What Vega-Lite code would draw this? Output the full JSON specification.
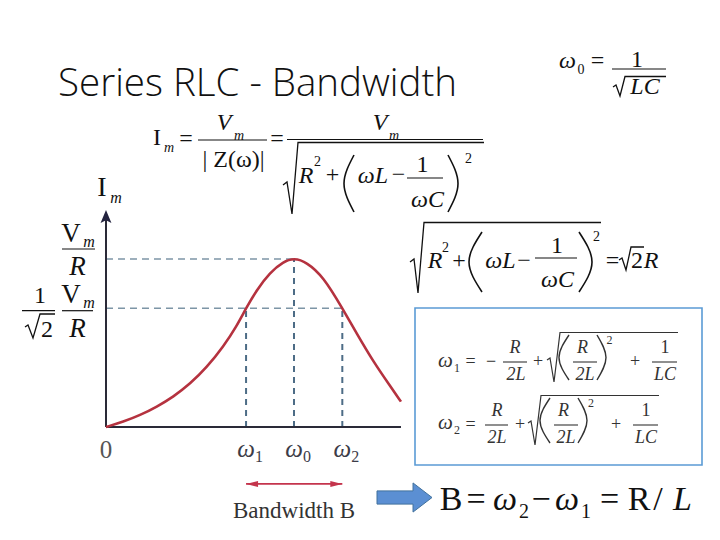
{
  "$schema": "https://vega.github.io/schema/vega-lite/v6.json",
  "width": 720,
  "height": 540,
  "autosize": {"type": "fit", "contains": "padding"},
  "padding": 0,
  "background": "white",
  "config": {"view": {"stroke": null}},
  "datasets": {
    "curve": [
      {"w": 0, "i": 0}, {"w": 0.092, "i": 0.031}, {"w": 0.181, "i": 0.07}, {"w": 0.27, "i": 0.12},
      {"w": 0.358, "i": 0.18}, {"w": 0.447, "i": 0.256}, {"w": 0.536, "i": 0.355}, {"w": 0.624, "i": 0.478},
      {"w": 0.695, "i": 0.6}, {"w": 0.745, "i": 0.707}, {"w": 0.801, "i": 0.815}, {"w": 0.872, "i": 0.92},
      {"w": 0.943, "i": 0.984}, {"w": 1.0, "i": 1.006}, {"w": 1.067, "i": 0.982}, {"w": 1.156, "i": 0.895},
      {"w": 1.257, "i": 0.707}, {"w": 1.333, "i": 0.558}, {"w": 1.422, "i": 0.389}, {"w": 1.514, "i": 0.24},
      {"w": 1.569, "i": 0.151}
    ],
    "hdash": [{"w": 0, "w2": 1.0, "i": 1.0}, {"w": 0, "w2": 1.257, "i": 0.707}],
    "vdash": [{"w": 0.745, "i": 0, "i2": 0.707}, {"w": 1.0, "i": 0, "i2": 1.0}, {"w": 1.257, "i": 0, "i2": 0.707}],
    "xaxis": [{"w": 0, "w2": 1.569, "i": 0}],
    "yaxis": [{"w": 0, "i": 0, "i2": 1.232}],
    "yhead": [{"w": 0, "i": 1.2512}],
    "bw": [{"w": 0.745, "w2": 1.257, "i": -0.339}],
    "bwl": [{"w": 0.745, "i": -0.339}],
    "bwr": [{"w": 1.257, "i": -0.339}],
    "bwtext": [{"w": 1.0, "i": -0.5417, "t": "Bandwidth B"}],
    "zero": [{"w": 0, "i": -0.1845, "t": "0"}],
    "wl": [{"w": 0.745, "i": -0.1786, "s": "1"}, {"w": 1.0, "i": -0.1786, "s": "0"}, {"w": 1.257, "i": -0.1786, "s": "2"}],
    "title": [{"x": 58, "y": 96, "t": "Series RLC - Bandwidth"}],
    "box": [{"x": 415, "x2": 702, "y": 308, "y2": 465}],
    "arrow": [{"x": 404.5, "y": 497.5}],
    "t24": [
      {"x": 597.5, "y": 68, "t": "="}, {"x": 637, "y": 66.5, "t": "1"}, {"x": 157, "y": 145, "t": "I"},
      {"x": 186, "y": 146, "t": "="}, {"x": 233.5, "y": 167, "t": "| Z(ω)|"}, {"x": 277, "y": 146, "t": "="},
      {"x": 332.5, "y": 182, "t": "+"}, {"x": 398.5, "y": 182, "t": "−"}, {"x": 422.5, "y": 172, "t": "1"},
      {"x": 459, "y": 268, "t": "+"}, {"x": 524, "y": 268, "t": "−"}, {"x": 557, "y": 253, "t": "1"},
      {"x": 612.5, "y": 268, "t": "="}, {"x": 637, "y": 268, "t": "2"}, {"x": 40, "y": 303, "t": "1"},
      {"x": 47, "y": 337, "t": "2"}
    ],
    "i24": [
      {"x": 567.5, "y": 68, "t": "ω"}, {"x": 645, "y": 94, "t": "LC"}, {"x": 224, "y": 130, "t": "V"},
      {"x": 380, "y": 130, "t": "V"}, {"x": 306, "y": 183, "t": "R"}, {"x": 373, "y": 183, "t": "ωL"},
      {"x": 427.5, "y": 207, "t": "ωC"}, {"x": 435, "y": 268, "t": "R"}, {"x": 500.5, "y": 268, "t": "ωL"},
      {"x": 557.5, "y": 287, "t": "ωC"}, {"x": 651, "y": 268, "t": "R"}
    ],
    "t14": [
      {"x": 581, "y": 74, "t": "0"}, {"x": 317.5, "y": 166, "t": "2"}, {"x": 468.5, "y": 163, "t": "2"},
      {"x": 445.5, "y": 252, "t": "2"}, {"x": 596.5, "y": 241, "t": "2"}
    ],
    "i14": [{"x": 169, "y": 152, "t": "m"}, {"x": 239, "y": 140, "t": "m"}, {"x": 394, "y": 140, "t": "m"}],
    "t27": [{"x": 71, "y": 242, "t": "V"}, {"x": 71, "y": 303, "t": "V"}],
    "i27": [{"x": 77.5, "y": 275, "t": "R"}, {"x": 77.5, "y": 337, "t": "R"}],
    "i16": [{"x": 89, "y": 247, "t": "m"}, {"x": 89, "y": 308, "t": "m"}, {"x": 116, "y": 203, "t": "m"}],
    "t28": [{"x": 102, "y": 196, "t": "I"}],
    "bt18": [
      {"x": 470.5, "y": 367, "t": "="}, {"x": 491, "y": 367, "t": "−"}, {"x": 538, "y": 367, "t": "+"},
      {"x": 635, "y": 367, "t": "+"}, {"x": 665, "y": 353, "t": "1"}, {"x": 470.5, "y": 430, "t": "="},
      {"x": 520, "y": 430, "t": "+"}, {"x": 616, "y": 430, "t": "+"}, {"x": 646, "y": 416, "t": "1"}
    ],
    "bi18": [
      {"x": 515, "y": 353, "t": "R"}, {"x": 516, "y": 380, "t": "2L"},
      {"x": 582.5, "y": 353, "t": "R"}, {"x": 585, "y": 380, "t": "2L"}, {"x": 665, "y": 380, "t": "LC"},
      {"x": 497, "y": 416, "t": "R"}, {"x": 497, "y": 443, "t": "2L"},
      {"x": 563.5, "y": 416, "t": "R"}, {"x": 566, "y": 443, "t": "2L"}, {"x": 646, "y": 443, "t": "LC"}
    ],
    "bw20": [{"x": 445.5, "y": 367, "t": "ω"}, {"x": 445.5, "y": 429, "t": "ω"}],
    "bt12": [{"x": 457, "y": 372, "t": "1"}, {"x": 609.5, "y": 344, "t": "2"}, {"x": 457, "y": 434, "t": "2"}, {"x": 591, "y": 407, "t": "2"}],
    "bigt": [
      {"x": 451, "y": 510, "t": "B"}, {"x": 476, "y": 510, "t": "="}, {"x": 541, "y": 510, "t": "−"},
      {"x": 609.5, "y": 510, "t": "="}, {"x": 639, "y": 510, "t": "R"}, {"x": 658, "y": 510, "t": "/"}
    ],
    "bigi": [{"x": 505, "y": 510, "t": "ω"}, {"x": 567, "y": 510, "t": "ω"}, {"x": 682.5, "y": 510, "t": "L"}],
    "bigs": [{"x": 524, "y": 518, "t": "2"}, {"x": 586, "y": 518, "t": "1"}],
    "bars": [
      {"x": 612, "x2": 666, "y": 69}, {"x": 198, "x2": 267, "y": 140}, {"x": 287, "x2": 483, "y": 139.5},
      {"x": 407, "x2": 443, "y": 178}, {"x": 535, "x2": 577, "y": 258}, {"x": 62, "x2": 95, "y": 249},
      {"x": 22, "x2": 55, "y": 310.7}, {"x": 62, "x2": 93, "y": 310.7}
    ],
    "bbars": [
      {"x": 503, "x2": 527, "y": 362}, {"x": 573, "x2": 597, "y": 362}, {"x": 652, "x2": 677, "y": 362},
      {"x": 485, "x2": 508, "y": 425}, {"x": 554, "x2": 578, "y": 425}, {"x": 633, "x2": 658, "y": 425}
    ],
    "rad": [
      {"id": "r1", "k": 0, "x": 613, "y": 87}, {"id": "r1", "k": 1, "x": 616, "y": 85}, {"id": "r1", "k": 2, "x": 620, "y": 96}, {"id": "r1", "k": 3, "x": 625, "y": 76.5}, {"id": "r1", "k": 4, "x": 666, "y": 76.5},
      {"id": "r2", "k": 0, "x": 283, "y": 185}, {"id": "r2", "k": 1, "x": 287, "y": 182}, {"id": "r2", "k": 2, "x": 292, "y": 214}, {"id": "r2", "k": 3, "x": 298, "y": 142.5}, {"id": "r2", "k": 4, "x": 484, "y": 142.5},
      {"id": "r3", "k": 0, "x": 410, "y": 262}, {"id": "r3", "k": 1, "x": 414, "y": 259}, {"id": "r3", "k": 2, "x": 418, "y": 293}, {"id": "r3", "k": 3, "x": 424, "y": 222.5}, {"id": "r3", "k": 4, "x": 601, "y": 222.5},
      {"id": "r4", "k": 0, "x": 25, "y": 327}, {"id": "r4", "k": 1, "x": 28, "y": 325}, {"id": "r4", "k": 2, "x": 33, "y": 338}, {"id": "r4", "k": 3, "x": 40, "y": 314}, {"id": "r4", "k": 4, "x": 55, "y": 314},
      {"id": "r5", "k": 0, "x": 619, "y": 260}, {"id": "r5", "k": 1, "x": 622, "y": 258}, {"id": "r5", "k": 2, "x": 626, "y": 270}, {"id": "r5", "k": 3, "x": 631, "y": 247}, {"id": "r5", "k": 4, "x": 644, "y": 247}
    ],
    "brad": [
      {"id": "b1", "k": 0, "x": 547, "y": 360}, {"id": "b1", "k": 1, "x": 550, "y": 358}, {"id": "b1", "k": 2, "x": 554, "y": 382}, {"id": "b1", "k": 3, "x": 560, "y": 332.5}, {"id": "b1", "k": 4, "x": 678, "y": 332.5},
      {"id": "b2", "k": 0, "x": 528, "y": 423}, {"id": "b2", "k": 1, "x": 531, "y": 421}, {"id": "b2", "k": 2, "x": 535, "y": 445}, {"id": "b2", "k": 3, "x": 541, "y": 395.5}, {"id": "b2", "k": 4, "x": 659, "y": 395.5}
    ],
    "par": [
      {"id": "p1", "k": 0, "x": 354, "y": 155}, {"id": "p1", "k": 1, "x": 344, "y": 183.5}, {"id": "p1", "k": 2, "x": 354, "y": 212},
      {"id": "p2", "k": 0, "x": 448, "y": 155}, {"id": "p2", "k": 1, "x": 458, "y": 183.5}, {"id": "p2", "k": 2, "x": 448, "y": 212},
      {"id": "p3", "k": 0, "x": 482, "y": 232}, {"id": "p3", "k": 1, "x": 469, "y": 262}, {"id": "p3", "k": 2, "x": 482, "y": 292},
      {"id": "p4", "k": 0, "x": 579, "y": 232}, {"id": "p4", "k": 1, "x": 592, "y": 262}, {"id": "p4", "k": 2, "x": 579, "y": 292}
    ],
    "bpar": [
      {"id": "p5", "k": 0, "x": 569, "y": 335}, {"id": "p5", "k": 1, "x": 559, "y": 357.5}, {"id": "p5", "k": 2, "x": 569, "y": 380},
      {"id": "p6", "k": 0, "x": 597, "y": 335}, {"id": "p6", "k": 1, "x": 606, "y": 357.5}, {"id": "p6", "k": 2, "x": 597, "y": 380},
      {"id": "p7", "k": 0, "x": 550, "y": 398}, {"id": "p7", "k": 1, "x": 540, "y": 420.5}, {"id": "p7", "k": 2, "x": 550, "y": 443},
      {"id": "p8", "k": 0, "x": 578, "y": 398}, {"id": "p8", "k": 1, "x": 587, "y": 420.5}, {"id": "p8", "k": 2, "x": 578, "y": 443}
    ]
  },
  "layer": [
    {
      "encoding": {
        "x": {"field": "w", "type": "quantitative", "scale": {"domain": [-0.56383, 3.26596], "nice": false, "zero": false}, "axis": null},
        "y": {"field": "i", "type": "quantitative", "scale": {"domain": [-0.67262, 2.54167], "nice": false, "zero": false}, "axis": null}
      },
      "layer": [
        {"data": {"name": "hdash"}, "mark": {"type": "rule", "color": "#7d95a6", "strokeWidth": 1.6, "strokeDash": [7, 5]}, "encoding": {"x2": {"field": "w2"}}},
        {"data": {"name": "vdash"}, "mark": {"type": "rule", "color": "#4d6c86", "strokeWidth": 2, "strokeDash": [6, 5]}, "encoding": {"y2": {"field": "i2"}}},
        {"data": {"name": "xaxis"}, "mark": {"type": "rule", "color": "#2a2a38", "strokeWidth": 2.2}, "encoding": {"x2": {"field": "w2"}}},
        {"data": {"name": "yaxis"}, "mark": {"type": "rule", "color": "#2a2a38", "strokeWidth": 2}, "encoding": {"y2": {"field": "i2"}}},
        {"data": {"name": "yhead"}, "mark": {"type": "point", "filled": true, "color": "#23233f", "opacity": 1, "size": 185, "shape": "M0,-1 L0.8,0.9 L0,0.5 L-0.8,0.9 Z"}},
        {"data": {"name": "curve"}, "mark": {"type": "line", "color": "#b5323f", "strokeWidth": 2.6, "interpolate": "basis"}},
        {"data": {"name": "bw"}, "mark": {"type": "rule", "color": "#c4344c", "strokeWidth": 1.8}, "encoding": {"x2": {"field": "w2"}}},
        {"data": {"name": "bwl"}, "mark": {"type": "point", "filled": true, "color": "#c4344c", "opacity": 1, "size": 144, "xOffset": 6, "shape": "M-1,0 L1,-0.5 L1,0.5 Z"}},
        {"data": {"name": "bwr"}, "mark": {"type": "point", "filled": true, "color": "#c4344c", "opacity": 1, "size": 144, "xOffset": -6, "shape": "M1,0 L-1,-0.5 L-1,0.5 Z"}},
        {"data": {"name": "bwtext"}, "mark": {"type": "text", "font": "Liberation Serif", "fontSize": 23, "color": "#333333", "align": "center", "baseline": "alphabetic"}, "encoding": {"text": {"field": "t"}}},
        {"data": {"name": "zero"}, "mark": {"type": "text", "font": "Liberation Serif", "fontSize": 25, "color": "#555555", "align": "center", "baseline": "alphabetic"}, "encoding": {"text": {"field": "t"}}},
        {"data": {"name": "wl"}, "mark": {"type": "text", "font": "Liberation Serif", "fontStyle": "italic", "fontSize": 25, "color": "#3c3c48", "align": "center", "baseline": "alphabetic"}, "encoding": {"text": {"value": "ω"}}},
        {"data": {"name": "wl"}, "mark": {"type": "text", "font": "Liberation Serif", "fontSize": 16, "color": "#3c3c48", "align": "center", "baseline": "alphabetic", "dx": 13, "dy": 5}, "encoding": {"text": {"field": "s"}}}
      ]
    },
    {
      "encoding": {
        "x": {"field": "x", "type": "quantitative", "scale": {"domain": [0, 720], "nice": false, "zero": false}, "axis": null},
        "y": {"field": "y", "type": "quantitative", "scale": {"domain": [0, 540], "nice": false, "zero": false, "reverse": true}, "axis": null}
      },
      "layer": [
        {"data": {"name": "box"}, "mark": {"type": "rect", "fill": "white", "stroke": "#5b9bd5", "strokeWidth": 1.6}, "encoding": {"x2": {"field": "x2"}, "y2": {"field": "y2"}}},
        {"data": {"name": "arrow"}, "mark": {"type": "point", "filled": true, "color": "#5b8fd3", "stroke": "#41719c", "strokeWidth": 1, "opacity": 1, "size": 3025, "shape": "M-1,-0.24 L0.31,-0.24 L0.31,-0.53 L1,0 L0.31,0.53 L0.31,0.24 L-1,0.24 Z"}},
        {"data": {"name": "title"}, "mark": {"type": "text", "font": "Open Sans", "fontWeight": 300, "fontSize": 38.5, "color": "#111111", "align": "left", "baseline": "alphabetic"}, "encoding": {"text": {"field": "t"}}},
        {"data": {"name": "bars"}, "mark": {"type": "rule", "color": "#111111", "strokeWidth": 1.2}, "encoding": {"x2": {"field": "x2"}}},
        {"data": {"name": "bbars"}, "mark": {"type": "rule", "color": "#333333", "strokeWidth": 1.1}, "encoding": {"x2": {"field": "x2"}}},
        {"data": {"name": "rad"}, "mark": {"type": "line", "color": "#111111", "strokeWidth": 1.3}, "encoding": {"detail": {"field": "id"}, "order": {"field": "k", "type": "quantitative"}}},
        {"data": {"name": "brad"}, "mark": {"type": "line", "color": "#333333", "strokeWidth": 1.2}, "encoding": {"detail": {"field": "id"}, "order": {"field": "k", "type": "quantitative"}}},
        {"data": {"name": "par"}, "mark": {"type": "line", "color": "#111111", "strokeWidth": 1.6, "interpolate": "natural"}, "encoding": {"detail": {"field": "id"}, "order": {"field": "k", "type": "quantitative"}}},
        {"data": {"name": "bpar"}, "mark": {"type": "line", "color": "#333333", "strokeWidth": 1.4, "interpolate": "natural"}, "encoding": {"detail": {"field": "id"}, "order": {"field": "k", "type": "quantitative"}}},
        {"data": {"name": "t24"}, "mark": {"type": "text", "font": "Liberation Serif", "fontSize": 24, "color": "#111111", "align": "center", "baseline": "alphabetic"}, "encoding": {"text": {"field": "t"}}},
        {"data": {"name": "i24"}, "mark": {"type": "text", "font": "Liberation Serif", "fontStyle": "italic", "fontSize": 24, "color": "#111111", "align": "center", "baseline": "alphabetic"}, "encoding": {"text": {"field": "t"}}},
        {"data": {"name": "t14"}, "mark": {"type": "text", "font": "Liberation Serif", "fontSize": 14, "color": "#111111", "align": "center", "baseline": "alphabetic"}, "encoding": {"text": {"field": "t"}}},
        {"data": {"name": "i14"}, "mark": {"type": "text", "font": "Liberation Serif", "fontStyle": "italic", "fontSize": 14, "color": "#111111", "align": "center", "baseline": "alphabetic"}, "encoding": {"text": {"field": "t"}}},
        {"data": {"name": "t27"}, "mark": {"type": "text", "font": "Liberation Serif", "fontSize": 27, "color": "#111111", "align": "center", "baseline": "alphabetic"}, "encoding": {"text": {"field": "t"}}},
        {"data": {"name": "i27"}, "mark": {"type": "text", "font": "Liberation Serif", "fontStyle": "italic", "fontSize": 27, "color": "#111111", "align": "center", "baseline": "alphabetic"}, "encoding": {"text": {"field": "t"}}},
        {"data": {"name": "i16"}, "mark": {"type": "text", "font": "Liberation Serif", "fontStyle": "italic", "fontSize": 16, "color": "#111111", "align": "center", "baseline": "alphabetic"}, "encoding": {"text": {"field": "t"}}},
        {"data": {"name": "t28"}, "mark": {"type": "text", "font": "Liberation Serif", "fontSize": 28, "color": "#111111", "align": "center", "baseline": "alphabetic"}, "encoding": {"text": {"field": "t"}}},
        {"data": {"name": "bt18"}, "mark": {"type": "text", "font": "Liberation Serif", "fontSize": 18, "color": "#333333", "align": "center", "baseline": "alphabetic"}, "encoding": {"text": {"field": "t"}}},
        {"data": {"name": "bi18"}, "mark": {"type": "text", "font": "Liberation Serif", "fontStyle": "italic", "fontSize": 18, "color": "#333333", "align": "center", "baseline": "alphabetic"}, "encoding": {"text": {"field": "t"}}},
        {"data": {"name": "bw20"}, "mark": {"type": "text", "font": "Liberation Serif", "fontStyle": "italic", "fontSize": 21, "color": "#333333", "align": "center", "baseline": "alphabetic"}, "encoding": {"text": {"field": "t"}}},
        {"data": {"name": "bt12"}, "mark": {"type": "text", "font": "Liberation Serif", "fontSize": 12, "color": "#333333", "align": "center", "baseline": "alphabetic"}, "encoding": {"text": {"field": "t"}}},
        {"data": {"name": "bigt"}, "mark": {"type": "text", "font": "Liberation Serif", "fontSize": 34, "color": "#111111", "align": "center", "baseline": "alphabetic"}, "encoding": {"text": {"field": "t"}}},
        {"data": {"name": "bigi"}, "mark": {"type": "text", "font": "Liberation Serif", "fontStyle": "italic", "fontSize": 34, "color": "#111111", "align": "center", "baseline": "alphabetic"}, "encoding": {"text": {"field": "t"}}},
        {"data": {"name": "bigs"}, "mark": {"type": "text", "font": "Liberation Serif", "fontSize": 20, "color": "#111111", "align": "center", "baseline": "alphabetic"}, "encoding": {"text": {"field": "t"}}}
      ]
    }
  ],
  "resolve": {"scale": {"x": "independent", "y": "independent"}}
}
